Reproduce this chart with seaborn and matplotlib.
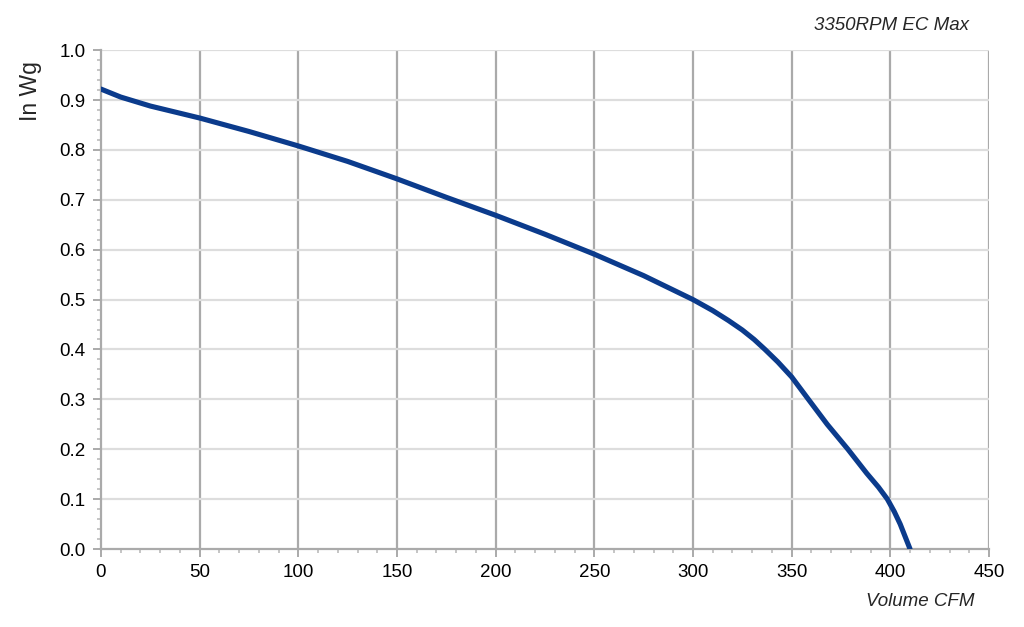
import numpy as np
import pandas as pd
import matplotlib
matplotlib.use('Agg')
import matplotlib.pyplot as plt
from matplotlib.ticker import MultipleLocator
import seaborn as sns

# fan curve
volume_cfm = [0, 10, 25, 50, 75, 100, 125, 150, 175, 200, 225, 250, 275, 300,
              310, 318, 325, 331, 336.5, 343, 350, 358.5, 368, 378.5, 388, 394,
              398.5, 402, 405, 408, 410]
pressure_inwg = [0.922, 0.906, 0.888, 0.864, 0.837, 0.808, 0.777, 0.742, 0.705, 0.669,
                 0.631, 0.591, 0.548, 0.50, 0.478, 0.458, 0.439, 0.42, 0.40, 0.375,
                 0.345, 0.30, 0.25, 0.20, 0.152, 0.124, 0.10, 0.075, 0.05, 0.02, 0.0]

df = pd.DataFrame({'cfm': volume_cfm, 'inwg': pressure_inwg})

sns.set_style('white')
plt.rcParams['font.family'] = ['Liberation Sans', 'DejaVu Sans']

fig = plt.figure(figsize=(10.24, 6.27), dpi=100)
ax = fig.add_axes([0.0986, 0.1244, 0.8672, 0.7956])

sns.lineplot(data=df, x='cfm', y='inwg', color='#0b3b8c', linewidth=3.7,
             solid_capstyle='round', solid_joinstyle='round', ax=ax, zorder=5)

ax.set_xlim(0, 450)
ax.set_ylim(0, 1.0)
ax.xaxis.set_major_locator(MultipleLocator(50))
ax.xaxis.set_minor_locator(MultipleLocator(10))
ax.yaxis.set_major_locator(MultipleLocator(0.1))
ax.yaxis.set_minor_locator(MultipleLocator(0.02))
ax.yaxis.set_major_formatter(plt.FuncFormatter(lambda v, p: f'{v:.1f}'))

ax.grid(False)
for xv in range(50, 451, 50):
    ax.axvline(xv, color='#aaaaaa', linewidth=1.6, zorder=1)
for yv in np.arange(0.1, 1.01, 0.1):
    ax.axhline(yv, color='#dddddd', linewidth=1.6, zorder=1)

for side in ['top', 'right']:
    ax.spines[side].set_visible(False)
for side in ['left', 'bottom']:
    ax.spines[side].set_color('#aaaaaa')
    ax.spines[side].set_linewidth(1.6)

ax.tick_params(axis='both', which='major', direction='out', length=6, width=1.4,
               color='#aaaaaa', labelsize=13.5, labelcolor='black', pad=5)
ax.tick_params(axis='both', which='minor', direction='out', length=3, width=1.2,
               color='#bbbbbb')
ax.tick_params(axis='x', which='both', bottom=True)
ax.tick_params(axis='y', which='both', left=True)

ax.set_xlabel('')
ax.set_ylabel('')
fig.text(0.952, 0.040, 'Volume CFM', ha='right', va='center', fontsize=13.5, style='italic')
fig.text(0.946, 0.960, '3350RPM EC Max', ha='right', va='center', fontsize=13.5, style='italic')
fig.text(0.030, 0.855, 'In Wg', ha='center', va='center', rotation=90, fontsize=16.5)

fig.savefig('out.png', dpi=100)
